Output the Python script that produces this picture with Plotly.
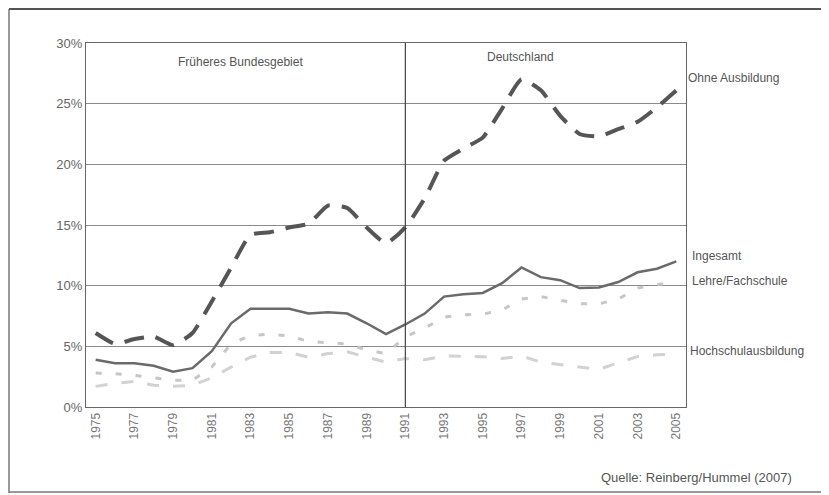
import plotly.graph_objects as go

years = list(range(1975, 2006))

ohne_ausbildung = [6.1, 5.2, 5.6, 5.8, 5.1, 6.1, 8.7, 11.5, 14.2, 14.4, 14.8, 15.1, 16.6, 16.4, 14.8, 13.5,
                   14.8, 17.2, 20.3, 21.3, 22.2, 24.6, 27.0, 26.1, 24.0, 22.5, 22.3, 22.9, 23.5, 24.7, 26.1]
insgesamt = [3.9, 3.6, 3.6, 3.4, 2.9, 3.2, 4.6, 6.9, 8.1, 8.1, 8.1, 7.7, 7.8, 7.7, 6.9, 6.0,
             6.8, 7.7, 9.1, 9.3, 9.4, 10.2, 11.5, 10.7, 10.45, 9.8, 9.85, 10.3, 11.1, 11.4, 12.0]
lehre = [2.8, 2.75, 2.6, 2.4, 2.2, 2.2, 3.3, 5.2, 5.9, 6.0, 5.85, 5.4, 5.3, 5.2, 4.7, 4.4,
         5.8, 6.5, 7.4, 7.6, 7.65, 8.0, 8.9, 9.1, 8.8, 8.5, 8.5, 8.9, 9.8, 10.1, 10.2]
hochschule = [1.7, 1.95, 2.1, 1.8, 1.7, 1.8, 2.4, 3.3, 4.1, 4.5, 4.5, 4.1, 4.4, 4.55, 4.1, 3.7,
              4.0, 3.9, 4.2, 4.2, 4.15, 4.0, 4.2, 3.7, 3.5, 3.3, 3.1, 3.65, 4.15, 4.3, 4.35]

tick_years = list(range(1975, 2006, 2))
y_ticks = [0, 5, 10, 15, 20, 25, 30]
y_labels = [f"{v}%" for v in y_ticks]

series_labels = ["Ohne Ausbildung", "Ingesamt", "Lehre/Fachschule", "Hochschulausbildung"]
region_labels = ["Früheres Bundesgebiet", "Deutschland"]
source_text = "Quelle: Reinberg/Hummel (2007)"

fig = go.Figure()
fig.add_trace(go.Scatter(x=years, y=hochschule, mode="lines",
                         line=dict(color="#d2d2d2", width=3, dash="12px,14px"), hoverinfo="skip"))
fig.add_trace(go.Scatter(x=years, y=lehre, mode="lines",
                         line=dict(color="#c6c6c6", width=3, dash="6px,14px"), hoverinfo="skip"))
fig.add_trace(go.Scatter(x=years, y=insgesamt, mode="lines",
                         line=dict(color="#6a6a6a", width=2.5), hoverinfo="skip"))
fig.add_trace(go.Scatter(x=years, y=ohne_ausbildung, mode="lines", line_shape="spline",
                         line=dict(color="#555555", width=4, dash="20px,12px", smoothing=0.5),
                         hoverinfo="skip"))

fig.add_vline(x=1991, line=dict(color="#444444", width=1.2))

# the page puts the figure 8px in from the window edge; positions below are window pixels
OFF = 8
PL, PR, PT, PB = 86, 686, 43, 407


def px_x(p):
    return (p - PL) / (PR - PL)


def px_y(p):
    return (PB - p) / (PB - PT)


font = dict(family="Liberation Sans, Arial, sans-serif", size=12, color="#555555")
ann = [
    dict(text=region_labels[0], x=px_x(240), y=px_y(62), xanchor="center"),
    dict(text=region_labels[1], x=px_x(520), y=px_y(57), xanchor="center"),
    dict(text=series_labels[0], x=px_x(686), y=px_y(78), xanchor="left"),
    dict(text=series_labels[1], x=px_x(690), y=px_y(256), xanchor="left"),
    dict(text=series_labels[2], x=px_x(690), y=px_y(281), xanchor="left"),
    dict(text=series_labels[3], x=px_x(688), y=px_y(351), xanchor="left"),
]
for a in ann:
    fig.add_annotation(xref="paper", yref="paper", showarrow=False, yanchor="middle",
                       font=font, **a)
fig.add_annotation(text=source_text, xref="paper", yref="paper", x=px_x(794), y=px_y(477),
                   xanchor="right", yanchor="middle", showarrow=False,
                   font=dict(family="Liberation Sans Narrow, Liberation Sans, sans-serif",
                             size=13, color="#555555"))

# outer frame of the clipping
frame = dict(type="line", xref="paper", yref="paper", line=dict(color="#777777", width=1.5))
fig.add_shape(x0=px_x(9), x1=px_x(9), y0=px_y(9), y1=px_y(493), **frame)
fig.add_shape(x0=px_x(9), x1=px_x(829), y0=px_y(9), y1=px_y(9),
              type="line", xref="paper", yref="paper", line=dict(color="#555555", width=2))
fig.add_shape(x0=px_x(9), x1=px_x(829), y0=px_y(492), y1=px_y(492), **frame)

W, H = 829 - OFF, 495 - OFF
fig.update_layout(
    width=W, height=H,
    margin=dict(l=PL - OFF, r=W - (PR - OFF), t=PT - OFF, b=H - (PB - OFF), pad=0),
    paper_bgcolor="white", plot_bgcolor="white",
    showlegend=False,
    xaxis=dict(range=[1974.5, 2005.5], tickvals=tick_years, ticktext=[str(y) for y in tick_years],
               tickangle=-90, showgrid=False, zeroline=False,
               showline=True, mirror=True, linecolor="#666666", linewidth=1,
               ticks="", tickfont=dict(family="Liberation Sans, Arial, sans-serif", size=12,
                                       color="#777777")),
    yaxis=dict(range=[0, 30], tickvals=y_ticks, ticktext=y_labels, showgrid=True,
               gridcolor="#8a8a8a", gridwidth=1, zeroline=False,
               showline=True, mirror=True, linecolor="#666666", linewidth=1,
               ticks="", ticklen=0,
               tickfont=dict(family="Liberation Sans, Arial, sans-serif", size=13, color="#666666")),
)

fig.write_html("out.html")
